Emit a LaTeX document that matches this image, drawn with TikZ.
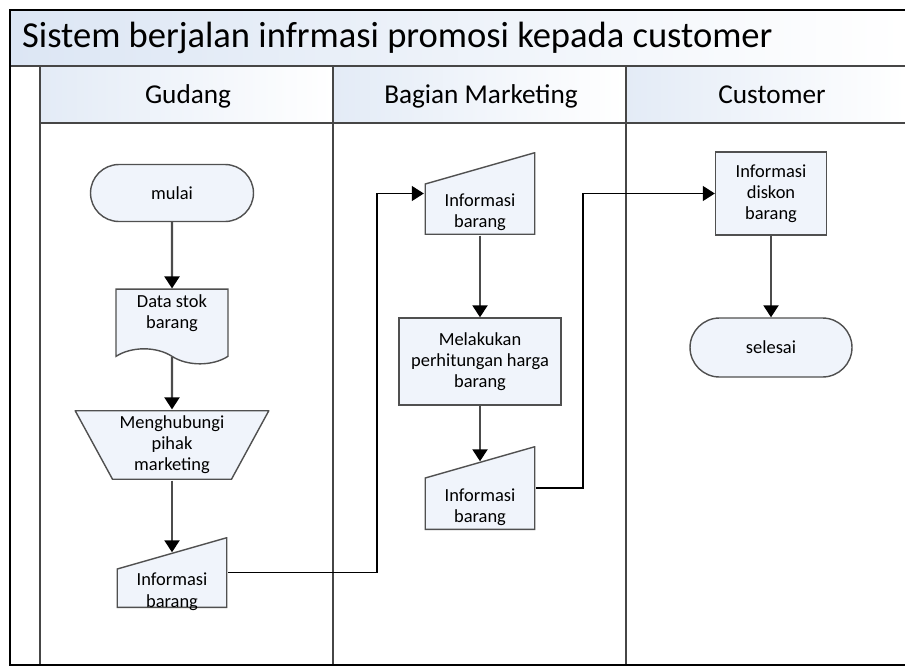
\documentclass[tikz,border=0pt]{standalone}
\usepackage{fontspec}
\setmainfont{Carlito}
\usetikzlibrary{arrows.meta, shapes.symbols, calc}

\definecolor{boxfill}{RGB}{240,244,251}
\definecolor{bandfill}{RGB}{220,230,244}
\definecolor{lanegray}{RGB}{70,70,70}
\definecolor{edgegray}{RGB}{80,80,80}

% text set low in the manual input boxes
\newcommand{\lowtext}[1]{\raisebox{-0.69cm}[0pt][0pt]{\begin{tabular}[b]{@{}c@{}}#1\end{tabular}}}

\tikzset{
  manin/.style={draw=none, fill=none, inner ysep=0pt,
    path picture={
      \draw[draw=edgegray, fill=boxfill, line width=0.8pt]
        ([shift={(0.4pt,0.4pt)}]path picture bounding box.south west)
        -- ([shift={(-0.4pt,0.4pt)}]path picture bounding box.south east)
        -- ([shift={(-0.4pt,-0.4pt)}]path picture bounding box.north east)
        -- ([shift={(0.4pt,-0.64cm)}]path picture bounding box.north west) -- cycle;}},
  manop/.style={draw=none, fill=none,
    path picture={
      \draw[draw=edgegray, fill=boxfill, line width=0.8pt]
        ([shift={(0.4pt,-0.4pt)}]path picture bounding box.north west)
        -- ([shift={(-0.4pt,-0.4pt)}]path picture bounding box.north east)
        -- ([shift={(-0.76cm,0.4pt)}]path picture bounding box.south east)
        -- ([shift={(0.76cm,0.4pt)}]path picture bounding box.south west) -- cycle;}},
  lanehead/.style={anchor=base, font=\fontsize{15.5}{18}\selectfont}
}

\begin{document}
\begin{tikzpicture}[x=0.02cm, y=-0.02cm]
\useasboundingbox (0,0) rectangle (905,666);

% pool and lanes
\shade[left color=bandfill, right color=white] (10,10) rectangle (905,66);
\foreach \a/\b in {40/333, 333/626, 626/905}
    \shade[left color=bandfill!80, right color=white] (\a,66) rectangle (\b,123);
\draw[lanegray, line width=1.1pt] (10,66) -- (905,66);
\draw[lanegray, line width=1.1pt] (40,123) -- (905,123);
\foreach \x in {40,333,626}
    \draw[lanegray, line width=1.1pt] (\x,66) -- (\x,665);
\draw[black, line width=0.8pt] (905,10) -- (10,10) -- (10,665) -- (905,665);

\node (judul) at (16,38) [anchor=west, font=\fontsize{20.8}{24}\selectfont] {Sistem berjalan infrmasi promosi kepada customer};
\node (gudang) at (188,103) [lanehead] {Gudang};
\node (marketing) at (481,103) [lanehead] {Bagian Marketing};
\node (customer) at (772,103) [lanehead] {Customer};

\begin{scope}[every node/.style={draw=edgegray, fill=boxfill, line width=0.8pt, align=center, font=\fontsize{10.5}{12}\selectfont}]
    \node (mulai) at (172,193) [rectangle, rounded corners=0.57cm, minimum width=3.26cm, minimum height=1.14cm] {mulai};
    \node (stok) at (172,319) [tape, tape bend top=none, tape bend bottom=out and in, tape bend height=0.3cm, minimum width=2.24cm, minimum height=1.18cm] {Data stok\\barang\\[-4pt]};
    \node (hubungi) at (172,445) [manop, minimum width=3.9cm, minimum height=1.12cm] {Menghubungi\\pihak\\marketing};
    \node (info1) at (172,572.5) [manin, minimum width=2.22cm, minimum height=1.42cm] {\lowtext{Informasi\\barang}};

    \node (info2) at (480,193.5) [manin, minimum width=2.22cm, minimum height=1.66cm] {\lowtext{Informasi\\barang}};
    \node (hitung) at (480,361.5) [rectangle, minimum width=3.24cm, minimum height=1.74cm] {Melakukan\\perhitungan harga\\barang};
    \node (info3) at (480,488) [manin, minimum width=2.22cm, minimum height=1.68cm] {\lowtext{Informasi\\barang}};

    \node (diskon) at (771,193.5) [rectangle, minimum width=2.22cm, minimum height=1.66cm] {Informasi\\diskon\\barang};
    \node (selesai) at (771,347.5) [rectangle, rounded corners=0.59cm, minimum width=3.24cm, minimum height=1.18cm] {selesai};
\end{scope}

\coordinate (bend1) at (377,193.5);
\coordinate (bend2) at (583,193.5);

\begin{scope}[>={Triangle[black, length=0.24cm, width=0.3cm]},
              every edge/.style={draw=black!70, line width=1.2pt}]
    \path [->] (mulai) edge (stok);
    \path [->] (stok) edge (hubungi);
    \path [->] (hubungi) edge ($(info1.north)+(0,16)$);
    \path [->] (info2) edge (hitung);
    \path [->] (hitung) edge ($(info3.north)+(0,16)$);
    \path [->] (diskon) edge (selesai);

    \draw [->, black, line width=0.7pt] (info1.east) -| (bend1) -- (info2.west);
    \draw [->, black, line width=0.7pt] (info3.east) -| (bend2) -- (diskon.west);
\end{scope}
\end{tikzpicture}
\end{document}
